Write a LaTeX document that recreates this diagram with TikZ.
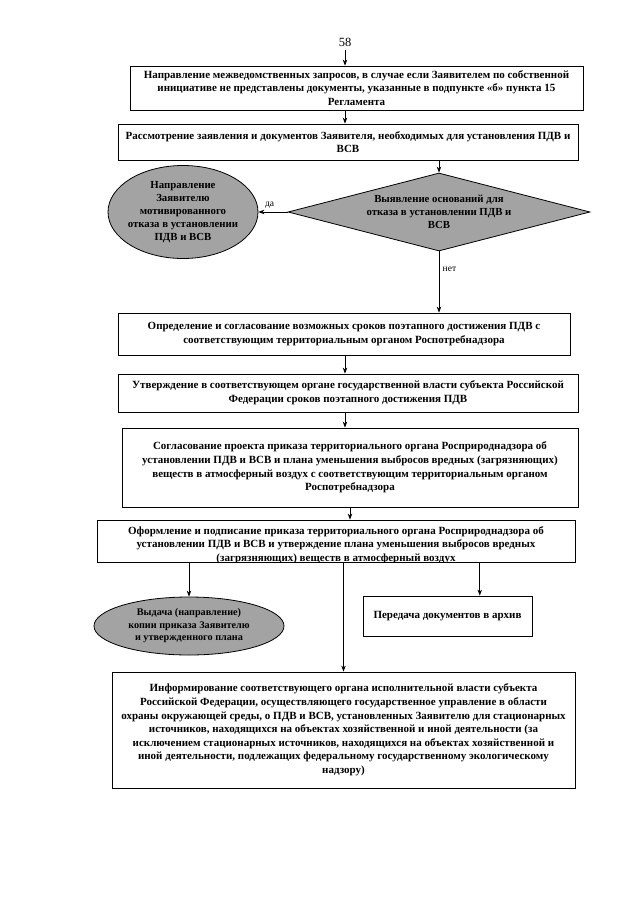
\documentclass[tikz,border=0pt]{standalone}
\usepackage{fontspec}
\setmainfont{Liberation Serif}
\usetikzlibrary{shapes.geometric,arrows.meta,calc}
\begin{document}
\begin{tikzpicture}[x=1pt,y=-1pt, line width=0.8pt,
  arr/.style={-{Stealth[length=6pt,width=4.5pt]}},
  boxt/.style={font=\bfseries\fontsize{11}{13.6}\selectfont, align=center},
  procbox/.style={draw, rectangle, inner sep=0pt, boxt},
  grayfill/.style={fill=black!36, draw},
  smallt/.style={font=\bfseries\fontsize{10.8}{13}\selectfont, align=center},
  tinyt/.style={font=\bfseries\fontsize{10.2}{12.5}\selectfont, align=center},
  lbl/.style={font=\fontsize{9.5}{11}\selectfont}
]
\useasboundingbox (0,0) rectangle (640,905);
\fill[white] (0,0) rectangle (640,905);

\node[font=\fontsize{12.5}{14}\selectfont] (num) at (345,42) {58};

\node[procbox, minimum width=453, minimum height=44] (b1) at (356.5,88)
 {Направление межведомственных запросов, в случае если Заявителем по собственной\\инициативе не представлены документы, указанные в подпункте «б» пункта 15\\Регламента};

\node[procbox, minimum width=460, minimum height=36] (b2) at (348,142)
 {Рассмотрение заявления и документов Заявителя, необходимых для установления ПДВ и\\ВСВ};

\node[diamond, grayfill, inner sep=0pt, minimum width=302, minimum height=78] (dia) at (439,212) {};
\node[smallt] (diat) at (dia.center) {Выявление оснований для\\отказа в установлении ПДВ и\\ВСВ};

\node[ellipse, grayfill, inner sep=0pt, minimum width=150, minimum height=93] (e1) at (183,212) {};
\node[smallt] (e1t) at (e1.center) {Направление\\Заявителю\\мотивированного\\отказа в установлении\\ПДВ и ВСВ};

\node[procbox, minimum width=452, minimum height=42] (b3) at (344,334)
 {Определение и согласование возможных сроков поэтапного достижения ПДВ с\\соответствующим территориальным органом Роспотребнадзора};

\node[procbox, minimum width=460, minimum height=38] (b4) at (348,393)
 {Утверждение в соответствующем органе государственной власти субъекта Российской\\Федерации сроков поэтапного достижения ПДВ};

\node[procbox, minimum width=456, minimum height=79] (b5) at (350,467.5)
 {Согласование проекта приказа территориального органа Росприроднадзора об\\установлении ПДВ и ВСВ и плана уменьшения выбросов вредных (загрязняющих)\\веществ в атмосферный воздух с соответствующим территориальным органом\\Роспотребнадзора};

\node[draw, rectangle, inner sep=0pt, minimum width=478, minimum height=42] (b6) at (336,541) {};
\begin{scope}
  \clip (b6.north west) rectangle (b6.south east);
  \node[boxt, anchor=north] (b6t) at ($(b6.north)+(0,3)$)
   {Оформление и подписание приказа территориального органа Росприроднадзора об\\установлении ПДВ и ВСВ и утверждение плана уменьшения выбросов вредных\\(загрязняющих) веществ в атмосферный воздух};
\end{scope}

\node[ellipse, grayfill, inner sep=0pt, minimum width=190, minimum height=58] (e2) at (189,626) {};
\node[tinyt] (e2t) at (e2.center) {Выдача (направление)\\копии приказа Заявителю\\и утвержденного плана};

\node[procbox, minimum width=169, minimum height=40] (arch) at (447.5,616)
 {Передача документов в архив};
\coordinate (archtop) at ($(arch.north west)!0.69!(arch.north east)$);

\node[procbox, minimum width=463, minimum height=116] (b7) at (343.5,730)
 {Информирование соответствующего органа исполнительной власти субъекта\\Российской Федерации, осуществляющего государственное управление в области\\охраны окружающей среды, о ПДВ и ВСВ, установленных Заявителю для стационарных\\источников, находящихся на объектах хозяйственной и иной деятельности (за\\исключением стационарных источников, находящихся на объектах хозяйственной и\\иной деятельности, подлежащих федеральному государственному экологическому\\надзору)};

% connectors
\draw[arr] (num.south) -- (b1.north -| num.south);
\draw[arr] (b1.south -| num.south) -- (b2.north -| num.south);
\draw[arr] (b2.south -| dia.north) -- (dia.north);
\draw[arr] (dia.west) -- (dia.west -| e1.east) node[lbl, above right, pos=0.9] (da) {да};
\draw[arr] (dia.south) -- (b3.north -| dia.south) node[lbl, right, pos=0.3] (net) {нет};
\draw[arr] (b3.south -| num.south) -- (b4.north -| num.south);
\draw[arr] (b4.south -| num.south) -- (b5.north -| num.south);
\draw[arr] (b5.south) -- (b6.north -| b5.south);
\draw[arr] (b6.south -| e2.north) -- (e2.north);
\draw[arr] (b6.south -| b7.north) -- (b7.north);
\draw[arr] (b6.south -| archtop) -- (archtop);
\end{tikzpicture}
\end{document}
